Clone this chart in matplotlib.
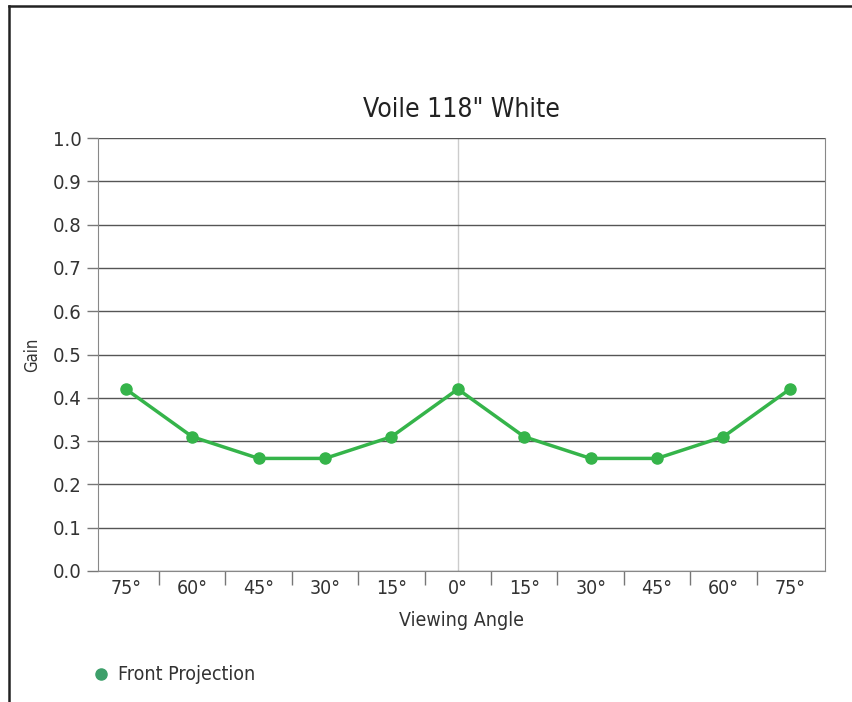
import matplotlib
matplotlib.use("Agg")
import matplotlib.pyplot as plt
from matplotlib.lines import Line2D

angles = ["75°", "60°", "45°", "30°", "15°", "0°", "15°", "30°", "45°", "60°", "75°"]
gain = [0.42, 0.31, 0.26, 0.26, 0.31, 0.42, 0.31, 0.26, 0.26, 0.31, 0.42]
yticks = [0.0, 0.1, 0.2, 0.3, 0.4, 0.5, 0.6, 0.7, 0.8, 0.9, 1.0]

plt.rcParams["font.family"] = ["DejaVu Sans"]
plt.rcParams["font.stretch"] = "condensed"

fig = plt.figure(figsize=(8.52, 7.02), dpi=100)
ax = fig.add_axes([98 / 852, 131 / 702, 727 / 852, 433 / 702])

line_color = "#35b44a"
xs = list(range(len(angles)))
ax.plot(xs, gain, color=line_color, lw=2.5, marker="o", ms=8, zorder=3)

ax.set_xlim(-0.42, len(angles) - 0.47)
ax.set_ylim(0, 1.0)
ax.set_yticks(yticks)
ax.set_yticklabels([f"{v:.1f}" for v in yticks], fontsize=14.5, color="#333333")
ax.set_xticks(xs)
ax.set_xticklabels(angles, fontsize=14, color="#333333")
ax.tick_params(axis="x", length=0, pad=6)
ax.tick_params(axis="y", length=8, color="#777777", width=1, pad=4)
ax.set_xticks([i + 0.5 for i in range(len(angles) - 1)], minor=True)
ax.tick_params(axis="x", which="minor", length=10, color="#777777", width=1)

ax.grid(axis="y", color="#555555", lw=1)
ax.axvline(5, color="#cccccc", lw=1, zorder=1)
for side in ["left", "right", "bottom", "top"]:
    ax.spines[side].set_color("#888888")
ax.spines["top"].set_visible(False)

ax.set_title('Voile 118" White', fontsize=19, color="#222222", pad=15)
ax.set_xlabel("Viewing Angle", fontsize=14, color="#333333", labelpad=9)
ax.set_ylabel("Gain", fontsize=12, color="#333333", labelpad=8)

handle = Line2D([], [], marker="o", ls="none", color="#3d9f6a", ms=8)
fig.legend([handle], ["Front Projection"], loc="center left",
           bbox_to_anchor=(64 / 852, 1 - 675 / 702), frameon=False,
           fontsize=14, handletextpad=-0.1, labelcolor="#333333")

# outer frame (left + top)
fig.add_artist(Line2D([9 / 852, 9 / 852], [0, 1 - 6 / 702], color="#222222",
                      lw=1.8, transform=fig.transFigure))
fig.add_artist(Line2D([9 / 852, 1], [1 - 6 / 702, 1 - 6 / 702], color="#222222",
                      lw=1.8, transform=fig.transFigure))

fig.savefig("out.png", dpi=100)
